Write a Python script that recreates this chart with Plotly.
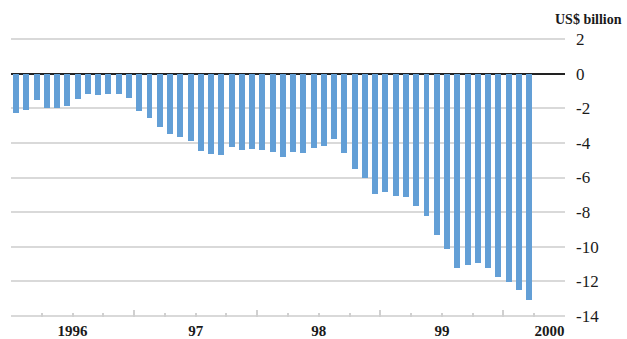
import plotly.graph_objects as go

# Monthly balance, US$ billion, Jan 1996 - Mar 2000
values_1996 = [-2.25, -2.08, -1.55, -1.96, -1.96, -1.85, -1.44, -1.20, -1.26, -1.20, -1.20, -1.38]
values_1997 = [-2.14, -2.55, -3.07, -3.48, -3.65, -3.89, -4.47, -4.64, -4.70, -4.24, -4.41, -4.35]
values_1998 = [-4.41, -4.53, -4.82, -4.53, -4.59, -4.29, -4.18, -3.77, -4.59, -5.52, -6.04, -6.98]
values_1999 = [-6.86, -7.09, -7.15, -7.67, -8.20, -9.31, -10.12, -11.23, -11.05, -10.94, -11.23, -11.75]
values_2000 = [-12.05, -12.51, -13.09]

values = values_1996 + values_1997 + values_1998 + values_1999 + values_2000
month_index = list(range(len(values)))

year_labels = ["1996", "97", "98", "99", "2000"]
year_label_pos = [5.5, 17.5, 29.5, 41.5, 52.0]
year_boundaries = [11.5, 23.5, 35.5, 47.5]
quarter_ticks = [q for q in [i * 3 - 0.5 for i in range(1, 18)] if q not in year_boundaries]

y_ticks = [2, 0, -2, -4, -6, -8, -10, -12, -14]

FONT = "Liberation Serif"
GRID = "#d9d9d9"
XR = [-0.5, 53.5]

fig = go.Figure()
fig.add_trace(go.Bar(x=month_index, y=values, width=0.58,
                     marker=dict(color="#639fd6", line=dict(width=0)),
                     showlegend=False, hoverinfo="skip"))

fig.update_layout(
    width=627, height=339,
    margin=dict(l=11, r=62, t=38, b=22, autoexpand=False),
    paper_bgcolor="white", plot_bgcolor="white",
    font=dict(family=FONT, color="#1a1a1a"),
    bargap=0,
    xaxis=dict(range=XR, tickmode="array", tickvals=year_label_pos, ticktext=year_labels,
               ticks="", showgrid=False, zeroline=False, showline=False, automargin=False,
               tickfont=dict(family=FONT, size=15, color="#1a1a1a", weight="bold"),
               ticklabelstandoff=3),
    xaxis2=dict(range=XR, overlaying="x", anchor="y", side="bottom", tickmode="array",
                tickvals=quarter_ticks, ticks="inside", ticklen=4, tickwidth=2, tickcolor="#d0d0d0",
                showticklabels=False, showgrid=False, zeroline=False, showline=False,
                automargin=False),
    xaxis3=dict(range=XR, overlaying="x", anchor="y", side="bottom", tickmode="array",
                tickvals=year_boundaries, ticks="inside", ticklen=7, tickwidth=2, tickcolor="#d0d0d0",
                showticklabels=False, showgrid=False, zeroline=False, showline=False,
                automargin=False),
    yaxis=dict(range=[-14.06, 2.06], side="right", tickmode="array", tickvals=y_ticks,
               ticktext=[str(v) for v in y_ticks], showgrid=True, gridcolor=GRID, gridwidth=2,
               zeroline=True, zerolinecolor="#222222", zerolinewidth=1.5, ticks="",
               automargin=False,
               tickfont=dict(family=FONT, size=17, color="#1a1a1a"), ticklabelstandoff=10),
    annotations=[dict(text="US$ billion", xref="paper", yref="paper", x=1.0433, y=1.068,
                      xanchor="center", yanchor="middle", showarrow=False,
                      font=dict(family=FONT, size=14, color="#1a1a1a", weight="bold"))],
)
# empty traces so the overlay tick axes render
fig.add_trace(go.Scatter(x=[None], y=[None], xaxis="x2", showlegend=False, hoverinfo="skip"))
fig.add_trace(go.Scatter(x=[None], y=[None], xaxis="x3", showlegend=False, hoverinfo="skip"))

fig.write_html("out.html", config={"displayModeBar": False},
               post_script="document.body.style.margin='0';document.body.style.padding='0';")
